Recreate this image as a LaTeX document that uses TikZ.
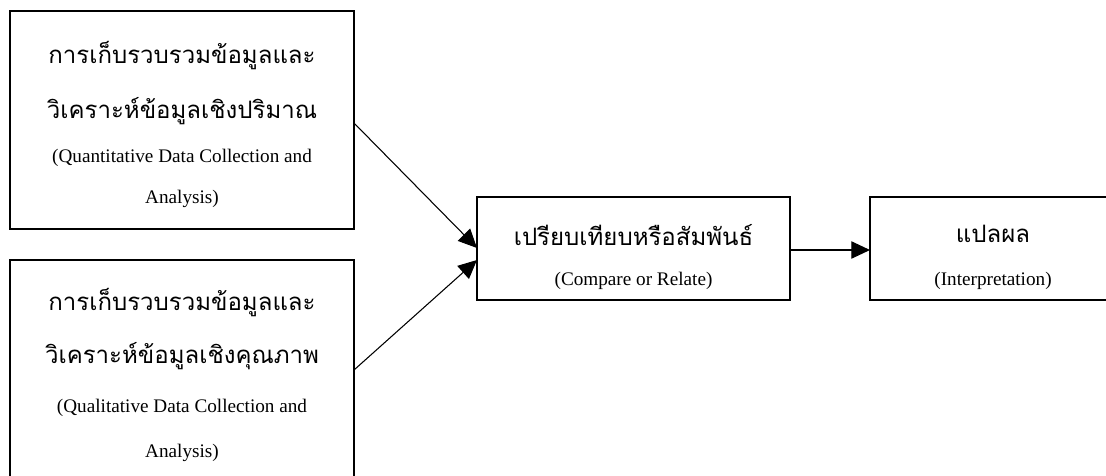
\documentclass[tikz,border=0pt]{standalone}
\usepackage{fontspec}
\setmainfont{Liberation Serif}
\newfontfamily\thaifont[Script=Thai]{Loma}
\usetikzlibrary{arrows.meta}
\tikzset{
  box/.style={draw=black, line width=2pt, rectangle, inner sep=0pt},
  thai/.style={anchor=base, inner sep=0pt, font=\thaifont\fontsize{18pt}{22pt}\selectfont},
  eng/.style={anchor=base, inner sep=0pt, font=\fontsize{14.4pt}{17pt}\selectfont},
  conn/.style={line width=0.8pt, -{Triangle[length=14pt,width=13pt]}}
}
\begin{document}
\begin{tikzpicture}[x=0.75pt,y=-0.75pt]
\useasboundingbox (0,0) rectangle (1106,475);
\clip (0,0) rectangle (1106,475);
\fill[white] (0,0) rectangle (1106,475);
% boxes
\node[box, minimum width=344*0.75pt, minimum height=218*0.75pt] (quan) at (182,120) {};
\node[box, minimum width=344*0.75pt, minimum height=218*0.75pt] (qual) at (182,369) {};
\node[box, minimum width=313*0.75pt, minimum height=103*0.75pt] (comp) at (633.5,248.5) {};
\node[box, minimum width=246*0.75pt, minimum height=103*0.75pt] (interp) at (993,248.5) {};
% texts box 1
\node[thai] (t1a) at (182,63) {การเก็บรวบรวมข้อมูลและ};
\node[thai] (t1b) at (182,118) {วิเคราะห์ข้อมูลเชิงปริมาณ};
\node[eng] (t1c) at (182,162) {(Quantitative Data Collection and};
\node[eng] (t1d) at (182,203) {Analysis)};
% texts box 2
\node[thai] (t2a) at (182,310) {การเก็บรวบรวมข้อมูลและ};
\node[thai] (t2b) at (182,363) {วิเคราะห์ข้อมูลเชิงคุณภาพ};
\node[eng] (t2c) at (182,412) {(Qualitative Data Collection and};
\node[eng] (t2d) at (182,457) {Analysis)};
% texts box 3
\node[thai] (t3a) at (633.5,245) {เปรียบเทียบหรือสัมพันธ์};
\node[eng] (t3b) at (633.5,285) {(Compare or Relate)};
% texts box 4
\node[thai] (t4a) at (993,242) {แปลผล};
\node[eng] (t4b) at (993,285) {(Interpretation)};
% connectors
\coordinate (s1) at (354,123);
\coordinate (e1) at (477,248);
\coordinate (s2) at (354,370);
\coordinate (e2) at (477,260);
\coordinate (s3) at (790,250);
\coordinate (e3) at (870,250);
\draw[conn] (s1) -- (e1);
\draw[conn] (s2) -- (e2);
\draw[conn] (s3) -- (e3);
\end{tikzpicture}
\end{document}
